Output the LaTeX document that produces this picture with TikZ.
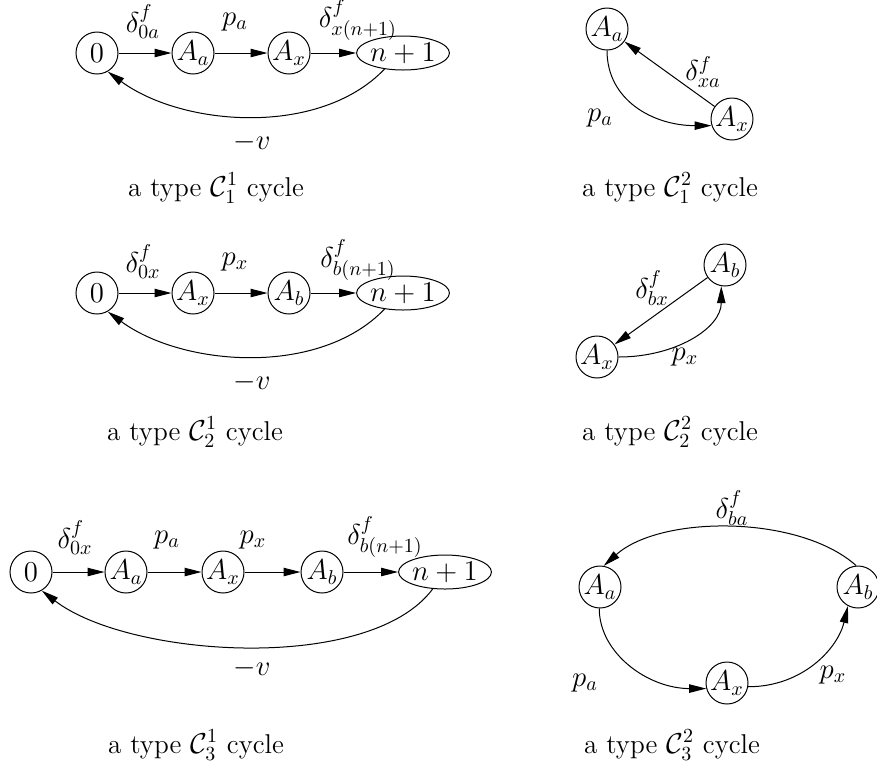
\documentclass[tikz,border=0pt]{standalone}
\usetikzlibrary{arrows.meta,shapes.geometric}
\begin{document}
\begin{tikzpicture}[x=0.5pt,y=-0.5pt,
  every node/.style={font=\fontsize{13.6}{16}\selectfont},
  st/.style={circle,draw,line width=0.5pt,minimum size=21pt,inner sep=0pt,font=\fontsize{14}{16}\selectfont},
  el/.style={ellipse,draw,line width=0.5pt,minimum width=45pt,minimum height=17pt,inner sep=0pt,font=\fontsize{14}{16}\selectfont},
  arr/.style={line width=0.5pt,-{Triangle[length=8.5pt,width=4.2pt]}},
  lbl/.style={inner sep=0pt},
]
\useasboundingbox (0,0) rectangle (877,778);

% ---- panel 1 (top left)
\node[st] (z1) at (97,53) {$0$};
\node[st] (a1) at (193,53) {$A_a$};
\node[st] (x1) at (289,53) {$A_x$};
\node[el] (n1) at (403,53) {$n+1$};
\draw[arr] (z1) -- (a1);
\draw[arr] (a1) -- (x1);
\draw[arr] (x1) -- (n1);
\draw[arr] (n1.-139) .. controls +(-65,68) and +(75,55) .. (z1.-60);
\node[lbl] (l1a) at (143,22) {$\delta^f_{0a}$};
\node[lbl] (l1b) at (235,22) {$p_a$};
\node[lbl] (l1c) at (358,20) {$\delta^f_{x(n+1)}$};
\node[lbl] (l1d) at (252,142) {$-v$};
\node[lbl] (c1) at (216,188) {a type $\mathcal{C}_1^1$ cycle};

% ---- panel 2 (top right)
\node[st] (a2) at (607,29) {$A_a$};
\node[st] (x2) at (732,119) {$A_x$};
\draw[arr] (x2) -- (a2);
\draw[arr] (a2.south) .. controls +(0,50) and +(-58,0) .. (x2.-162);
\node[lbl] (l2a) at (703,72) {$\delta^f_{xa}$};
\node[lbl] (l2b) at (600,118) {$p_a$};
\node[lbl] (c2) at (670,188) {a type $\mathcal{C}_1^2$ cycle};

% ---- panel 3 (middle left)
\node[st] (z3) at (97,293) {$0$};
\node[st] (x3) at (193,293) {$A_x$};
\node[st] (b3) at (289,293) {$A_b$};
\node[el] (n3) at (403,293) {$n+1$};
\draw[arr] (z3) -- (x3);
\draw[arr] (x3) -- (b3);
\draw[arr] (b3) -- (n3);
\draw[arr] (n3.-139) .. controls +(-65,68) and +(75,55) .. (z3.-60);
\node[lbl] (l3a) at (143,262) {$\delta^f_{0x}$};
\node[lbl] (l3b) at (235,262) {$p_x$};
\node[lbl] (l3c) at (358,260) {$\delta^f_{b(n+1)}$};
\node[lbl] (l3d) at (252,382) {$-v$};
\node[lbl] (c3) at (195,432) {a type $\mathcal{C}_2^1$ cycle};

% ---- panel 4 (middle right)
\node[st] (b4) at (725,265) {$A_b$};
\node[st] (x4) at (597,357) {$A_x$};
\draw[arr] (b4) -- (x4);
\draw[arr] (x4.east) .. controls +(57,0) and +(0,42) .. (b4.-100);
\node[lbl] (l4a) at (652,288) {$\delta^f_{bx}$};
\node[lbl] (l4b) at (685,357) {$p_x$};
\node[lbl] (c4) at (670,432) {a type $\mathcal{C}_2^2$ cycle};

% ---- panel 5 (bottom left)
\node[st] (z5) at (31,572) {$0$};
\node[st] (a5) at (126,572) {$A_a$};
\node[st] (x5) at (223,572) {$A_x$};
\node[st] (b5) at (322,572) {$A_b$};
\node[el] (n5) at (445,572) {$n+1$};
\draw[arr] (z5) -- (a5);
\draw[arr] (a5) -- (x5);
\draw[arr] (x5) -- (b5);
\draw[arr] (b5) -- (n5);
\draw[arr] (n5.-126) .. controls +(-63,85) and +(87,67) .. (z5.-60);
\node[lbl] (l5a) at (75,538) {$\delta^f_{0x}$};
\node[lbl] (l5b) at (167,540) {$p_a$};
\node[lbl] (l5c) at (253,540) {$p_x$};
\node[lbl] (l5d) at (385,537) {$\delta^f_{b(n+1)}$};
\node[lbl] (l5e) at (252,668) {$-v$};
\node[lbl] (c5) at (196,745) {a type $\mathcal{C}_3^1$ cycle};

% ---- panel 6 (bottom right)
\node[st] (a6) at (600,587) {$A_a$};
\node[st] (b6) at (858,587) {$A_b$};
\node[st] (x6) at (727,683) {$A_x$};
\draw[arr] (b6.95) .. controls +(-57,-51) and +(57,-51) .. (a6.80);
\draw[arr] (a6.-92) .. controls +(0,45) and +(-58,0) .. (x6.-165);
\draw[arr] (x6.-10) .. controls +(55,0) and +(-10,42) .. (b6.-118);
\node[lbl] (l6a) at (732,508) {$\delta^f_{ba}$};
\node[lbl] (l6b) at (585,683) {$p_a$};
\node[lbl] (l6c) at (833,675) {$p_x$};
\node[lbl] (c6) at (672,745) {a type $\mathcal{C}_3^2$ cycle};
\end{tikzpicture}
\end{document}
